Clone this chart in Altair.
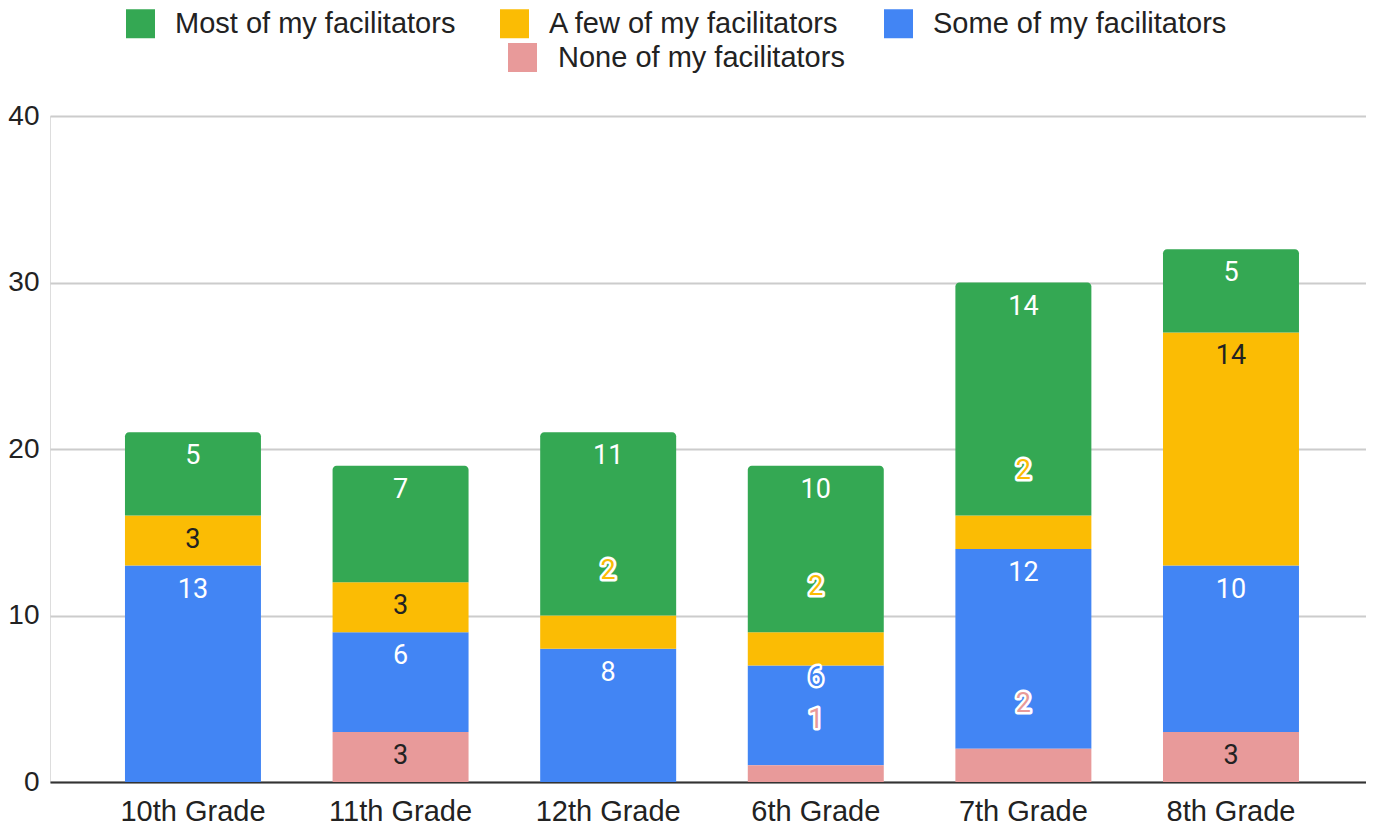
import altair as alt
import pandas as pd

grades = ["10th Grade", "11th Grade", "12th Grade", "6th Grade", "7th Grade", "8th Grade"]
series_most = "Most of my facilitators"
series_few = "A few of my facilitators"
series_some = "Some of my facilitators"
series_none = "None of my facilitators"

most = [5, 7, 11, 10, 14, 5]
few = [3, 3, 2, 2, 2, 14]
some = [13, 6, 8, 6, 12, 10]
none = [0, 3, 0, 1, 2, 3]

GREEN = "#34a853"
YELLOW = "#fbbc04"
BLUE = "#4285f4"
PINK = "#e89a9a"

rows = []
for i, g in enumerate(grades):
    for order, (name, vals) in enumerate(
        [(series_none, none), (series_some, some), (series_few, few), (series_most, most)]
    ):
        rows.append({"grade": g, "series": name, "value": vals[i], "order": order})
df = pd.DataFrame(rows)

x_enc = alt.X(
    "grade:N",
    sort=grades,
    title=None,
    scale=alt.Scale(paddingInner=0.345, paddingOuter=0.342, align=0.528),
    axis=alt.Axis(labelAngle=0, ticks=False, tickSize=0, labelPadding=15,
                  domain=True, domainColor="#333333", domainWidth=2,
                  labelFont="Liberation Sans", labelFontSize=29, labelColor="#222222",
                  grid=False),
)
y_scale = alt.Scale(domain=[0, 40], nice=False)
y_axis = alt.Axis(values=[0, 10, 20, 30, 40], ticks=False, tickSize=0, domain=False,
                  grid=True, gridColor="#cccccc", gridWidth=2, labelPadding=11,
                  labelFont="Liberation Sans", labelFontSize=28, labelColor="#222222",
                  title=None)

base = (
    alt.Chart(df)
    .transform_filter("datum.value > 0")
    .transform_stack(stack="value", as_=["y0", "y1"], groupby=["grade"],
                     sort=[alt.SortField("order", order="ascending")])
)

legend_main = alt.Legend(
    title=None, orient="none", legendX=76, legendY=-107, direction="horizontal",
    columns=3, symbolType="square", symbolSize=841, symbolStrokeWidth=0,
    labelFont="Liberation Sans", labelFontSize=29, labelColor="#222222",
    labelOffset=20, columnPadding=44, labelLimit=600, padding=0,
)
fill_scale = alt.Scale(domain=[series_most, series_few, series_some],
                       range=[GREEN, YELLOW, BLUE])

bars_mid = base.transform_filter(
    f"datum.series == '{series_some}' || datum.series == '{series_few}'"
).mark_bar().encode(
    x=x_enc,
    y=alt.Y("y0:Q", scale=y_scale, axis=y_axis, title=None),
    y2="y1:Q",
    fill=alt.Fill("series:N", scale=fill_scale, legend=legend_main),
)

bars_top = base.transform_filter(f"datum.series == '{series_most}'").mark_bar(
    cornerRadiusTopLeft=4, cornerRadiusTopRight=4
).encode(
    x=x_enc,
    y=alt.Y("y0:Q", scale=y_scale, axis=y_axis, title=None),
    y2="y1:Q",
    fill=alt.Fill("series:N", scale=fill_scale, legend=legend_main),
)

bars_none = base.transform_filter(f"datum.series == '{series_none}'").mark_bar(
    color=PINK, fill=PINK
).encode(
    x=x_enc,
    y=alt.Y("y0:Q", scale=y_scale, axis=y_axis, title=None),
    y2="y1:Q",
    opacity=alt.Opacity(
        "series:N",
        scale=alt.Scale(domain=[series_none], range=[1]),
        legend=alt.Legend(
            title=None, orient="none", legendX=458, legendY=-73, direction="horizontal",
            symbolType="square", symbolSize=841, symbolStrokeWidth=0,
            symbolFillColor=PINK, symbolOpacity=1,
            labelFont="Liberation Sans", labelFontSize=29, labelColor="#222222",
            labelOffset=21, labelLimit=600, padding=0,
        ),
    ),
)

dark_expr = f"(datum.series == '{series_few}' || datum.series == '{series_none}') ? '#222222' : '#ffffff'"
series_color_expr = (
    f"datum.series == '{series_few}' ? '{YELLOW}' : "
    f"datum.series == '{series_none}' ? '{PINK}' : "
    f"datum.series == '{series_some}' ? '{BLUE}' : '{GREEN}'"
)

six_test = f"(datum.grade == '6th Grade' && datum.series == '{series_some}')"

labels_normal = base.transform_filter(
    f"datum.value > 2 && !{six_test}"
).transform_calculate(tc=dark_expr).mark_text(
    font="Roboto", fontSize=27, baseline="middle", align="center", dy=24
).encode(
    x=x_enc,
    y=alt.Y("y1:Q", scale=y_scale, axis=y_axis, title=None),
    text="value:Q",
    fill=alt.Fill("tc:N", scale=None),
)


def halo_layers(filter_expr, dy):
    src = base.transform_filter(filter_expr).transform_calculate(sc=series_color_expr)
    halo = src.mark_text(
        font="Roboto", fontSize=27, baseline="middle", align="center", dy=dy,
        stroke="#ffffff", strokeWidth=5, strokeJoin="round", fill="#ffffff",
    ).encode(
        x=x_enc,
        y=alt.Y("y1:Q", scale=y_scale, axis=y_axis, title=None),
        text="value:Q",
    )
    core = src.mark_text(
        font="Roboto", fontSize=27, baseline="middle", align="center", dy=dy,
    ).encode(
        x=x_enc,
        y=alt.Y("y1:Q", scale=y_scale, axis=y_axis, title=None),
        text="value:Q",
        fill=alt.Fill("sc:N", scale=None),
    )
    return [halo, core]


small_layers = halo_layers("datum.value <= 2", -45)
six_layers = halo_layers(six_test, 13)

chart = (
    alt.layer(bars_mid, bars_top, bars_none, labels_normal, *small_layers, *six_layers)
    .properties(
        width=1316,
        height=666,
        autosize=alt.AutoSizeParams(type="none"),
        padding={"left": 42, "top": 108, "right": 0, "bottom": 50},
    )
    .configure_view(stroke=None)
    .configure(background="#ffffff")
)

chart.save("out.html", embed_options={"renderer": "svg", "actions": False})
